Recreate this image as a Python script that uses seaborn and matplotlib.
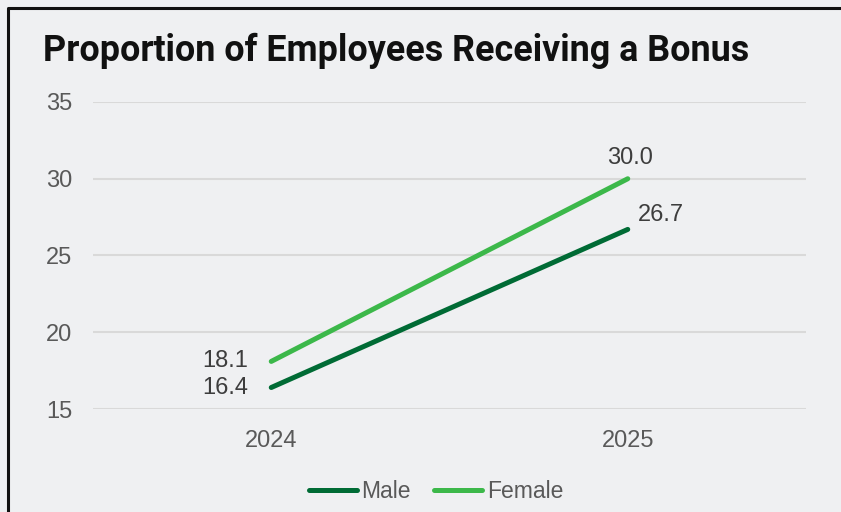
import matplotlib
matplotlib.use("Agg")
import matplotlib.pyplot as plt
import seaborn as sns
import pandas as pd
from matplotlib.lines import Line2D

years = ["2024", "2025"]
male = [16.4, 26.7]
female = [18.1, 30.0]
series_names = ["Male", "Female"]
colors = ["#006b35", "#3cb84a"]
yticks = [15, 20, 25, 30, 35]
title = "Proportion of Employees Receiving a Bonus"

df = pd.DataFrame({
    "year": years * 2,
    "value": male + female,
    "series": [series_names[0]] * 2 + [series_names[1]] * 2,
})

sns.set_theme(style="white")
plt.rcParams["font.family"] = ["Liberation Sans", "DejaVu Sans"]

bg = "#eff0f2"
fig = plt.figure(figsize=(8.41, 5.12), dpi=100, facecolor=bg)
ax = fig.add_axes([93/841, 1-409/512, (806-93)/841, (409-102)/512])
ax.set_facecolor(bg)

sns.lineplot(data=df, x="year", y="value", hue="series", palette=colors,
             linewidth=3.6, ax=ax, legend=False, sort=False,
             solid_capstyle="round")

ax.set_xlim(-0.5, 1.5)
ax.set_ylim(15, 35)
ax.set_yticks(yticks)
ax.set_yticklabels([str(t) for t in yticks])
for y in yticks:
    ax.axhline(y, color="#d9d9d9", lw=1.5, zorder=0)
for s in ax.spines.values():
    s.set_visible(False)
ax.tick_params(axis="both", length=0, labelsize=17, labelcolor="#595959")
ax.tick_params(axis="x", pad=15)
ax.tick_params(axis="y", pad=15)
ax.set_xlabel("")
ax.set_ylabel("")

tc = "#3d3d3d"
fs = 17
ax.annotate(f"{male[0]:.1f}", (0, male[0]), xytext=(-23, 0), textcoords="offset pixels",
            ha="right", va="center", fontsize=fs, color=tc)
ax.annotate(f"{female[0]:.1f}", (0, female[0]), xytext=(-23, 0), textcoords="offset pixels",
            ha="right", va="center", fontsize=fs, color=tc)
ax.annotate(f"{female[1]:.1f}", (1, female[1]), xytext=(2, 10), textcoords="offset pixels",
            ha="center", va="bottom", fontsize=fs, color=tc)
ax.annotate(f"{male[1]:.1f}", (1, male[1]), xytext=(10, 14), textcoords="offset pixels",
            ha="left", va="center", fontsize=fs, color=tc)

fig.text(43/841, 1-51/512, title, fontsize=25.8, fontweight="bold", color="#111111",
         ha="left", va="center", family=["Roboto", "DejaVu Sans"])

handles = [Line2D([0], [0], color=c, lw=3.6, solid_capstyle="round") for c in colors]
fig.legend(handles, series_names, loc="center", bbox_to_anchor=(436/841, 1-492/512),
           ncol=2, frameon=False, fontsize=16.5, handlelength=2.1, handletextpad=0.2,
           columnspacing=1.0, labelcolor="#595959")

fig.add_artist(Line2D([7.5/841, 7.5/841, 1.0], [0, 1-7.5/512, 1-7.5/512],
                      transform=fig.transFigure, color="#111111", lw=2.2))

fig.savefig("out.png", dpi=100, facecolor=bg)
